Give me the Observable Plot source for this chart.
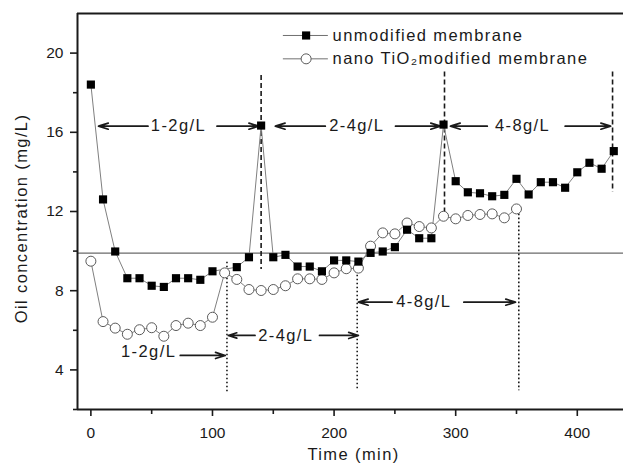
<!DOCTYPE html>
<html><head><meta charset="utf-8">
<script src="https://cdn.jsdelivr.net/npm/d3@7"></script>
<script src="https://cdn.jsdelivr.net/npm/@observablehq/plot@0.6"></script>
<style>
body{margin:0;background:#fff}
#chart svg{font-family:"Liberation Sans",Arial,sans-serif}
#chart svg text{letter-spacing:1.4px}
#chart svg g[aria-label$="tick label"] text{letter-spacing:0}
</style></head><body><div id="chart"></div>
<script>
// ---- data ----
const unmodTime = [0,10,20,30,40,50,60,70,80,90,100,120,130,140,150,160,170,180,190,200,210,220,230,240,250,260,270,280,290,300,310,320,330,340,350,360,370,380,390,400,410,420,430];
const unmodConc = [18.41,12.61,9.98,8.63,8.63,8.25,8.19,8.63,8.63,8.55,8.98,9.19,9.69,16.34,9.69,9.81,9.22,9.22,8.98,9.53,9.53,9.47,9.91,9.98,10.2,11.08,10.65,10.65,16.39,13.53,12.97,12.92,12.77,12.84,13.65,12.86,13.48,13.48,13.2,13.98,14.46,14.16,15.05];
const modTime = [0,10,20,30,40,50,60,70,80,90,100,110,120,130,140,150,160,170,180,190,200,210,220,230,240,250,260,270,280,290,300,310,320,330,340,350];
const modConc = [9.49,6.44,6.11,5.8,6.03,6.13,5.7,6.24,6.36,6.24,6.66,8.9,8.57,8.06,8.01,8.06,8.25,8.6,8.6,8.57,8.9,9.11,9.14,10.25,10.92,10.87,11.42,11.24,11.17,11.76,11.63,11.8,11.85,11.88,11.68,12.13];
const seriesNames = ["unmodified membrane", "nano TiO\u2082modified membrane"];
const xTicks = [0,100,200,300,400];
const xMinorTicks = [50,150,250,350];
const yTicks = [4,8,12,16,20];
const yMinorTicks = [2,6,10,14,18];
const xTitle = "Time (min)";
const yTitle = "Oil concentration (mg/L)";
const refLevel = 9.9;
// concentration-stage annotations
const stageLabels = ["1-2g/L","2-4g/L","4-8g/L"];
const topLabelT = [72, 218.7, 355];
const topLabelV = 16.31;
const bottomLabelT = [47.5, 160.3, 273.8];
const bottomLabelV = [4.94, 5.74, 7.42];
const topArrowFrom = [47, 103.7, 192.8, 250.5, 326, 390];
const topArrowTo = [6.3, 138, 151.7, 287.5, 295.7, 427.4];
const bottomArrowFrom = [73.5, 135, 188, 247.7, 306.7];
const bottomArrowTo = [110.5, 113, 220, 220, 349.2];
const bottomArrowV = [4.73, 5.74, 5.74, 7.42, 7.42];
const dashedT = [140, 290.8, 429];
const dashedTop = [18.87, 19.04, 19.04];
const dashedBottom = [9.07, 11.9, 12.97];
const dottedT = [111.9, 219, 351.9];
const dottedTop = [9.44, 9.19, 11.87];
const dottedBottom = [2.9, 2.95, 2.95];

const xDomain = [-11, 438];
const yDomain = [2, 22];

const unmod = unmodTime.map((t,i)=>({t, v: unmodConc[i]}));
const mod = modTime.map((t,i)=>({t, v: modConc[i]}));
const topLabels = stageLabels.map((s,i)=>({t: topLabelT[i], v: topLabelV, s}));
const bottomLabels = stageLabels.map((s,i)=>({t: bottomLabelT[i], v: bottomLabelV[i], s}));
const topArrows = topArrowFrom.map((a,i)=>({a, b: topArrowTo[i], v: topLabelV}));
const bottomArrows = bottomArrowFrom.map((a,i)=>({a, b: bottomArrowTo[i], v: bottomArrowV[i]}));
const dashed = dashedT.map((t,i)=>({t, y1: dashedTop[i], y2: dashedBottom[i]}));
const dotted = dottedT.map((t,i)=>({t, y1: dottedTop[i], y2: dottedBottom[i]}));
const legend = [{v: 20.89, s: seriesNames[0], sym: "square"}, {v: 19.71, s: seriesNames[1], sym: "circle"}];

const ink = "#1a1a1a";
const chart = Plot.plot({
  width: 623, height: 467,
  marginLeft: 77, marginRight: 0, marginTop: 13, marginBottom: 58,
  x: {domain: xDomain},
  y: {domain: yDomain},
  style: {fontSize: "15.5px", color: ink, background: "#fff", overflow: "visible"},
  marks: [
    Plot.ruleY([refLevel], {stroke: "#6a6a6a", strokeWidth: 1.2}),
    // frame
    Plot.ruleX([xDomain[0]], {stroke: ink, strokeWidth: 2}),
    Plot.ruleY([yDomain[0]], {stroke: ink, strokeWidth: 2}),
    Plot.ruleY([yDomain[1]], {stroke: ink, strokeWidth: 2}),
    // axes
    Plot.axisX({ticks: xTicks, tickSize: 7, tickPadding: 10, label: null, strokeWidth: 1.6}),
    Plot.axisX({ticks: xMinorTicks, tickSize: 5, tickFormat: () => "", label: null, strokeWidth: 1.6}),
    Plot.axisY({ticks: yTicks, tickSize: 7, tickPadding: 7, label: null, strokeWidth: 1.6}),
    Plot.axisY({ticks: yMinorTicks, tickSize: 4, tickFormat: () => "", label: null, strokeWidth: 1.6}),
    // annotation lines
    Plot.ruleX(dashed, {x: "t", y1: "y1", y2: "y2", stroke: ink, strokeWidth: 1.6, strokeDasharray: "5,3"}),
    Plot.ruleX(dotted, {x: "t", y1: "y1", y2: "y2", stroke: ink, strokeWidth: 1.6, strokeDasharray: "1.6,2.4"}),
    Plot.arrow(topArrows, {x1: "a", x2: "b", y1: "v", y2: "v", stroke: ink, strokeWidth: 1.7, headLength: 9, headAngle: 35}),
    Plot.arrow(bottomArrows, {x1: "a", x2: "b", y1: "v", y2: "v", stroke: ink, strokeWidth: 1.7, headLength: 9, headAngle: 35}),
    Plot.text(topLabels, {x: "t", y: "v", text: "s", fontSize: 16.5, fill: ink}),
    Plot.text(bottomLabels, {x: "t", y: "v", text: "s", fontSize: 16.5, fill: ink}),
    // series
    Plot.line(mod, {x: "t", y: "v", stroke: "#808080", strokeWidth: 1}),
    Plot.line(unmod, {x: "t", y: "v", stroke: "#808080", strokeWidth: 1}),
    Plot.dot(mod, {x: "t", y: "v", r: 5, symbol: "circle", fill: "#fff", stroke: "#5a5a5a", strokeWidth: 1}),
    Plot.dot(unmod, {x: "t", y: "v", r: 4.6, symbol: "square", fill: "#000", stroke: "none"}),
    // legend
    Plot.ruleY(legend, {y: "v", x1: 158.3, x2: 195.3, stroke: "#707070", strokeWidth: 1}),
    Plot.dot(legend.slice(1), {x: 177, y: "v", r: 5, symbol: "circle", fill: "#fff", stroke: "#5a5a5a", strokeWidth: 1}),
    Plot.dot(legend.slice(0,1), {x: 177, y: "v", r: 4.6, symbol: "square", fill: "#000"}),
    Plot.text(legend, {x: 198.8, y: "v", text: "s", textAnchor: "start", fontSize: 16.5, fill: ink}),
    // axis titles
    Plot.text([xTitle], {text: d => d, frameAnchor: "bottom", textAnchor: "middle", dx: 3, dy: 50, fontSize: 16.5, fill: ink}),
    Plot.text([yTitle], {text: d => d, frameAnchor: "left", textAnchor: "middle", dx: -56, dy: 7, rotate: -90, fontSize: 16.5, fill: ink})
  ]
});
document.getElementById("chart").append(chart);
</script></body></html>
